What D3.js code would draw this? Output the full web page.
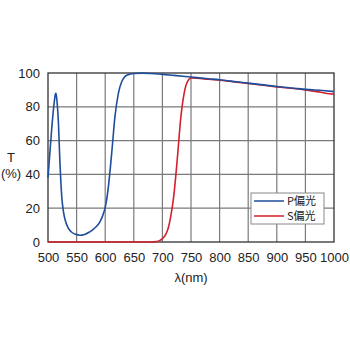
<!DOCTYPE html>
<html>
<head>
<meta charset="utf-8">
<script src="https://cdn.jsdelivr.net/npm/d3@7"></script>
<style>
  body { margin: 0; background: #fff; }
  text { font-family: "Liberation Sans", Arial, sans-serif; font-size: 13px; fill: #222; }
  .cjk { font-family: "Noto Sans CJK JP", "Liberation Sans", sans-serif; }
</style>
</head>
<body>
<svg id="chart" width="350" height="350"></svg>
<script>
// wavelength ticks and transmittance ticks
var xTicks = [500, 550, 600, 650, 700, 750, 800, 850, 900, 950, 1000];
var yTicks = [0, 20, 40, 60, 80, 100];

// P polarisation: wavelength (nm), T (%)
var pWave = [500, 504, 508, 511, 513, 514, 515.5, 518, 521, 524, 527, 530, 535, 540, 547, 556, 564, 571, 578, 585, 590, 595, 600, 603, 606, 609, 612, 617, 623, 629, 635, 640, 650, 665, 680, 700, 720, 750, 780, 800, 830, 850, 880, 900, 930, 950, 980, 1000];
var pT    = [38, 56, 73, 83, 87.5, 88, 84, 72, 46, 27, 18, 13, 8.5, 6.2, 4.7, 4, 4.5, 5.6, 7.2, 9.3, 11.5, 15, 20.5, 26, 34, 44, 55, 74, 88, 95, 98, 99, 99.7, 99.9, 99.7, 99.2, 98.6, 97.6, 96.6, 96, 94.8, 94, 92.8, 92, 91, 90.3, 89.6, 89];

// S polarisation
var sWave = [500, 600, 680, 690, 695, 700, 705, 710, 714, 720, 726, 732, 738, 744, 750, 760, 780, 800, 830, 850, 880, 900, 930, 950, 970, 985, 1000];
var sT    = [0, 0, 0, 0.3, 0.8, 2, 4, 8, 14, 27.6, 49, 73, 88, 95, 97, 96.9, 96.3, 95.7, 94.6, 93.8, 92.6, 91.8, 90.8, 90, 89, 88, 87.5];

var legendLabels = ["P偏光", "S偏光"];
var colors = ["#1f4e9c", "#d4202c"];

var svg = d3.select("#chart");
var margin = {top: 73, left: 48, right: 16, bottom: 108};
var w = 350 - margin.left - margin.right;
var h = 350 - margin.top - margin.bottom;
var g = svg.append("g").attr("transform", `translate(${margin.left},${margin.top})`);

var x = d3.scaleLinear().domain([500, 1000]).range([0, w]);
var y = d3.scaleLinear().domain([0, 100]).range([h, 0]);

// grid
g.append("g").selectAll("line").data(xTicks.slice(1, -1)).enter().append("line")
  .attr("x1", d => x(d)).attr("x2", d => x(d)).attr("y1", 0).attr("y2", h)
  .attr("stroke", "#7a7a7a").attr("stroke-width", 1.2);
g.append("g").selectAll("line").data(yTicks.slice(1, -1)).enter().append("line")
  .attr("x1", 0).attr("x2", w).attr("y1", d => y(d)).attr("y2", d => y(d))
  .attr("stroke", "#7a7a7a").attr("stroke-width", 1.2);
g.append("rect").attr("width", w).attr("height", h)
  .attr("fill", "none").attr("stroke", "#333").attr("stroke-width", 1.3);

// axes (labels only)
var ax = d3.axisBottom(x).tickValues(xTicks).tickSize(0).tickPadding(11).tickFormat(d3.format("d"));
var ay = d3.axisLeft(y).tickValues(yTicks).tickSize(0).tickPadding(8).tickFormat(d3.format("d"));
var gx = g.append("g").attr("transform", `translate(0,${h})`).call(ax);
var gy = g.append("g").call(ay);
[gx, gy].forEach(function(a) {
  a.select(".domain").remove();
  a.selectAll("text").attr("font-family", "Liberation Sans, Arial, sans-serif").attr("font-size", 13).attr("fill", "#222");
});

// axis titles
g.append("text").attr("x", w / 2).attr("y", h + 40).attr("text-anchor", "middle").text("λ(nm)");
svg.append("text").attr("x", 11).attr("y", 162).attr("text-anchor", "middle").text("T");
svg.append("text").attr("x", 11).attr("y", 178).attr("text-anchor", "middle").text("(%)");

// curves
var line = d3.line().x(d => x(d[0])).y(d => y(d[1])).curve(d3.curveMonotoneX);
g.append("path").datum(d3.zip(sWave, sT)).attr("d", line)
  .attr("fill", "none").attr("stroke", colors[1]).attr("stroke-width", 1.6);
g.append("path").datum(d3.zip(pWave, pT)).attr("d", line)
  .attr("fill", "none").attr("stroke", colors[0]).attr("stroke-width", 1.6);

// legend
var lg = svg.append("g").attr("transform", "translate(251,193)");
lg.append("rect").attr("width", 73).attr("height", 31)
  .attr("fill", "#fff").attr("stroke", "#888").attr("stroke-width", 1);
legendLabels.forEach(function(lbl, i) {
  var yy = 8 + i * 15;
  lg.append("line").attr("x1", 3).attr("x2", 33).attr("y1", yy).attr("y2", yy)
    .attr("stroke", colors[i]).attr("stroke-width", 1.5);
  lg.append("text").attr("class", "cjk").attr("x", 36).attr("y", yy + 4)
    .style("font-size", "11px").text(lbl);
});
</script>
</body>
</html>
